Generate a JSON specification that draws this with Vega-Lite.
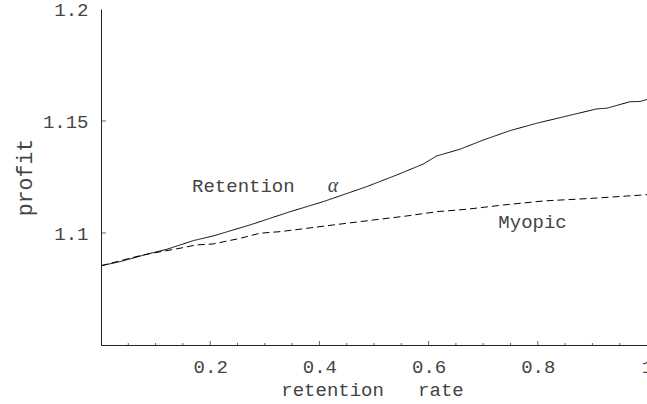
{
  "$schema": "https://vega.github.io/schema/vega-lite/v6.json",
  "autosize": {"type": "none"},
  "padding": {"left": 101, "top": 9, "right": 0, "bottom": 59},
  "width": 546,
  "height": 336,
  "background": "white",
  "config": {
    "view": {"stroke": null},
    "font": "Liberation Mono",
    "axis": {"grid": false}
  },
  "datasets": {
    "curves": [
      {"series": "Retention", "x": 0, "y": 1.0854},
      {"series": "Retention", "x": 0.0348, "y": 1.0872},
      {"series": "Retention", "x": 0.0897, "y": 1.0909},
      {"series": "Retention", "x": 0.1203, "y": 1.0927},
      {"series": "Retention", "x": 0.169, "y": 1.0966},
      {"series": "Retention", "x": 0.2057, "y": 1.0987},
      {"series": "Retention", "x": 0.2729, "y": 1.1036},
      {"series": "Retention", "x": 0.3462, "y": 1.1095},
      {"series": "Retention", "x": 0.4071, "y": 1.114},
      {"series": "Retention", "x": 0.4866, "y": 1.1207},
      {"series": "Retention", "x": 0.5416, "y": 1.1259},
      {"series": "Retention", "x": 0.5903, "y": 1.1308},
      {"series": "Retention", "x": 0.6148, "y": 1.1344},
      {"series": "Retention", "x": 0.6575, "y": 1.1374},
      {"series": "Retention", "x": 0.7002, "y": 1.1415},
      {"series": "Retention", "x": 0.7491, "y": 1.1457},
      {"series": "Retention", "x": 0.798, "y": 1.149},
      {"series": "Retention", "x": 0.8529, "y": 1.1522},
      {"series": "Retention", "x": 0.9079, "y": 1.1554},
      {"series": "Retention", "x": 0.9262, "y": 1.1557},
      {"series": "Retention", "x": 0.9689, "y": 1.1586},
      {"series": "Retention", "x": 0.9872, "y": 1.1587},
      {"series": "Retention", "x": 1.0, "y": 1.1596},
      {"series": "Myopic", "x": 0, "y": 1.0854},
      {"series": "Myopic", "x": 0.0769, "y": 1.0902},
      {"series": "Myopic", "x": 0.1447, "y": 1.0932},
      {"series": "Myopic", "x": 0.1753, "y": 1.0947},
      {"series": "Myopic", "x": 0.2051, "y": 1.0951},
      {"series": "Myopic", "x": 0.2546, "y": 1.0976},
      {"series": "Myopic", "x": 0.2912, "y": 1.0999},
      {"series": "Myopic", "x": 0.3278, "y": 1.1006},
      {"series": "Myopic", "x": 0.3645, "y": 1.1017},
      {"series": "Myopic", "x": 0.4255, "y": 1.1036},
      {"series": "Myopic", "x": 0.4987, "y": 1.1058},
      {"series": "Myopic", "x": 0.5599, "y": 1.1076},
      {"series": "Myopic", "x": 0.6148, "y": 1.1095},
      {"series": "Myopic", "x": 0.6698, "y": 1.1106},
      {"series": "Myopic", "x": 0.7368, "y": 1.1125},
      {"series": "Myopic", "x": 0.8101, "y": 1.1143},
      {"series": "Myopic", "x": 0.9016, "y": 1.1155},
      {"series": "Myopic", "x": 0.9628, "y": 1.1165},
      {"series": "Myopic", "x": 1.0, "y": 1.1171}
    ],
    "xticks": [
      {"x": 0.05, "kind": "minor"}, {"x": 0.1, "kind": "minor"}, {"x": 0.15, "kind": "minor"},
      {"x": 0.2, "kind": "major"}, {"x": 0.25, "kind": "minor"}, {"x": 0.3, "kind": "minor"},
      {"x": 0.35, "kind": "minor"}, {"x": 0.4, "kind": "major"}, {"x": 0.45, "kind": "minor"},
      {"x": 0.5, "kind": "minor"}, {"x": 0.55, "kind": "minor"}, {"x": 0.6, "kind": "major"},
      {"x": 0.65, "kind": "minor"}, {"x": 0.7, "kind": "minor"}, {"x": 0.75, "kind": "minor"},
      {"x": 0.8, "kind": "major"}, {"x": 0.85, "kind": "minor"}, {"x": 0.9, "kind": "minor"},
      {"x": 0.95, "kind": "minor"}
    ],
    "yticks": [
      {"y": 1.1}, {"y": 1.15}
    ],
    "labels": [
      {"x": 0.1667, "y": 1.1184, "text": "Retention"},
      {"x": 0.7277, "y": 1.1021, "text": "Myopic"}
    ],
    "greek": [
      {"x": 0.4249, "y": 1.1184, "text": "α"}
    ]
  },
  "layer": [
    {
      "mark": {"type": "rule", "color": "#555555", "strokeWidth": 1},
      "encoding": {
        "y": {"datum": 1.2, "type": "quantitative"}
      }
    },
    {
      "data": {"name": "curves"},
      "mark": {"type": "line", "color": "black", "strokeWidth": 1, "interpolate": "linear"},
      "encoding": {
        "x": {
          "field": "x", "type": "quantitative",
          "scale": {"domain": [0, 1], "nice": false, "zero": false},
          "axis": {
            "title": "retention\u00a0\u00a0\u00a0rate",
            "titleFont": "Liberation Mono", "titleFontSize": 19, "titleFontWeight": "normal",
            "titleColor": "#444444", "titleBaseline": "alphabetic", "titleY": 50, "titleX": 271,
            "values": [0.2, 0.4, 0.6, 0.8, 1],
            "format": "~g",
            "labelFont": "Liberation Mono", "labelFontSize": 19, "labelColor": "#444444",
            "labelPadding": 12, "labelFlush": false, "labelOverlap": false,
            "ticks": false,
            "domainColor": "#222222", "domainWidth": 1
          }
        },
        "y": {
          "field": "y", "type": "quantitative",
          "scale": {"domain": [1.05, 1.2], "nice": false, "zero": false},
          "axis": {
            "title": "profit",
            "titleFont": "Liberation Mono", "titleFontSize": 21.5, "titleFontWeight": "normal",
            "titleColor": "#444444", "titleAngle": -90, "titleBaseline": "alphabetic",
            "titleX": -70,
            "values": [1.1, 1.15, 1.2],
            "format": "~g",
            "labelFont": "Liberation Mono", "labelFontSize": 19, "labelColor": "#444444",
            "labelPadding": 13, "labelFlush": false, "labelOverlap": false,
            "ticks": false,
            "domainColor": "#222222", "domainWidth": 1
          }
        },
        "strokeDash": {
          "field": "series", "type": "nominal",
          "scale": {"domain": ["Retention", "Myopic"], "range": [[1, 0], [7, 4]]},
          "legend": null
        }
      }
    },
    {
      "data": {"name": "xticks"},
      "transform": [{"filter": "datum.kind == 'major'"}],
      "mark": {"type": "tick", "orient": "vertical", "size": 4, "thickness": 1, "yOffset": -2, "color": "#222222"},
      "encoding": {
        "x": {"field": "x", "type": "quantitative"},
        "y": {"datum": 1.05, "type": "quantitative"}
      }
    },
    {
      "data": {"name": "xticks"},
      "transform": [{"filter": "datum.kind == 'minor'"}],
      "mark": {"type": "tick", "orient": "vertical", "size": 2, "thickness": 1, "yOffset": -1, "color": "#222222"},
      "encoding": {
        "x": {"field": "x", "type": "quantitative"},
        "y": {"datum": 1.05, "type": "quantitative"}
      }
    },
    {
      "data": {"name": "yticks"},
      "mark": {"type": "tick", "orient": "horizontal", "size": 5, "thickness": 1, "xOffset": 2.5, "color": "#222222"},
      "encoding": {
        "x": {"datum": 0, "type": "quantitative"},
        "y": {"field": "y", "type": "quantitative"}
      }
    },
    {
      "data": {"name": "labels"},
      "mark": {"type": "text", "font": "Liberation Mono", "fontSize": 19, "align": "left", "baseline": "alphabetic", "color": "#444444"},
      "encoding": {
        "x": {"field": "x", "type": "quantitative"},
        "y": {"field": "y", "type": "quantitative"},
        "text": {"field": "text"}
      }
    },
    {
      "data": {"name": "greek"},
      "mark": {"type": "text", "font": "Liberation Serif", "fontStyle": "italic", "fontSize": 20, "align": "center", "baseline": "alphabetic", "color": "#444444"},
      "encoding": {
        "x": {"field": "x", "type": "quantitative"},
        "y": {"field": "y", "type": "quantitative"},
        "text": {"field": "text"}
      }
    }
  ]
}
